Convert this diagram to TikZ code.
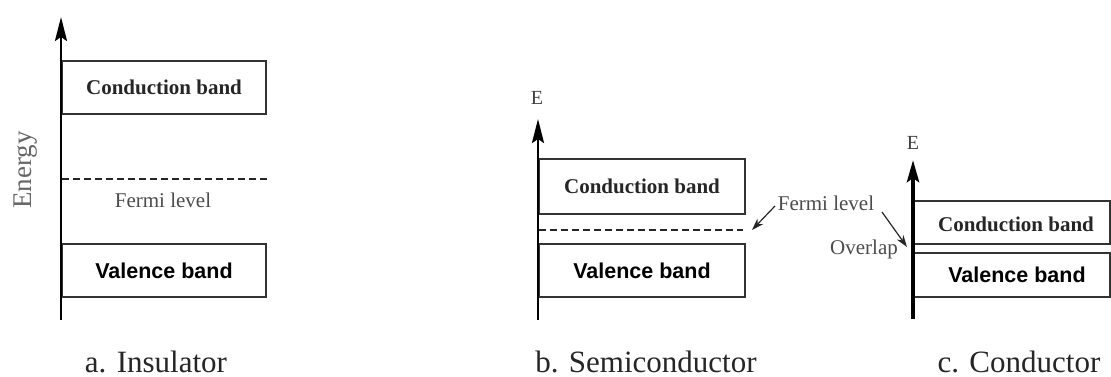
\documentclass[tikz,border=0pt]{standalone}
\usepackage{fontspec}
\setmainfont{Liberation Serif}
\newfontfamily\arialfont{Liberation Sans}
\usetikzlibrary{arrows.meta}
\tikzset{
  band/.style={draw=black!80, line width=1.6pt, inner sep=0pt, outer sep=0pt, anchor=north west},
  condtxt/.style={font=\fontsize{21}{21}\selectfont\bfseries, text=black!85},
  valtxt/.style={font=\arialfont\fontsize{21.5}{21}\selectfont\bfseries, text=black},
  axisline/.style={line width=2.6pt, -{Stealth[length=24pt, width=12pt, inset=4pt]}},
  thickaxis/.style={line width=4.2pt, -{Stealth[length=22pt, width=12pt, inset=4pt]}},
  fermiline/.style={draw=black!85, line width=1.3pt, dash pattern=on 7pt off 4pt},
  lbl/.style={font=\fontsize{21}{21}\selectfont, text=black!70, inner sep=0pt},
  elbl/.style={font=\fontsize{20}{20}\selectfont, text=black!75, inner sep=0pt},
  caption/.style={font=\fontsize{31}{31}\selectfont, text=black!85, inner sep=0pt, anchor=base},
  pointer/.style={line width=1.2pt, draw=black!85, -{Stealth[length=12pt, width=8pt]}}
}
\begin{document}
\begin{tikzpicture}[x=1pt,y=-1pt]
\useasboundingbox[fill=white] (0,0) rectangle (1111,377);

% ---------- a. Insulator ----------
\node[band, minimum width=204pt, minimum height=53pt] (ic) at (62,61) {};
\node[condtxt] (ict) at (ic.center) {Conduction band};
\node[band, minimum width=204pt, minimum height=53pt] (iv) at (62,244) {};
\node[valtxt] (ivt) at (iv.center) {Valence band};
\coordinate (ifl) at (62,179);
\coordinate (ifr) at (267,179);
\draw[fermiline] (ifl) -- (ifr);
\node[lbl] (ifermi) at (163,200) {Fermi level};
\coordinate (ia0) at (61,320);
\coordinate (ia1) at (61,17);
\draw[axisline] (ia0) -- (ia1);
\node[lbl, rotate=90, font=\fontsize{27}{27}\selectfont, text=black!60] (energy) at (26,170) {Energy};
\node[caption] (capa) at (156,372) {a. Insulator};

% ---------- b. Semiconductor ----------
\node[band, minimum width=206pt, minimum height=55pt] (sc) at (539,159) {};
\node[condtxt] (sct) at (sc.center) {Conduction band};
\node[band, minimum width=206pt, minimum height=53pt] (sv) at (539,244) {};
\node[valtxt] (svt) at (sv.center) {Valence band};
\coordinate (sfl) at (539,230);
\coordinate (sfr) at (743,230);
\draw[fermiline] (sfl) -- (sfr);
\coordinate (sa0) at (538,320);
\coordinate (sa1) at (538,119);
\draw[axisline] (sa0) -- (sa1);
\node[elbl] (se) at (537,98) {E};
\node[caption] (capb) at (646,372) {b. Semiconductor};

% ---------- c. Conductor ----------
\node[band, minimum width=197pt, minimum height=43pt] (cc) at (913,201) {};
\node[condtxt] (cct) at (1016,224) {Conduction band};
\node[band, minimum width=197pt, minimum height=44pt] (cv) at (913,253) {};
\node[valtxt] (cvt) at (1017,275) {Valence band};
\coordinate (ca0) at (913,319);
\coordinate (ca1) at (913,160);
\draw[thickaxis] (ca0) -- (ca1);
\node[elbl] (ce) at (913,143) {E};
\node[caption] (capc) at (1019,372) {c. Conductor};

% ---------- shared labels ----------
\node[lbl] (fermi2) at (826,203) {Fermi level};
\node[lbl] (overlap) at (864,249) {Overlap};
\coordinate (p1s) at (775,206);
\coordinate (p1e) at (752,230);
\draw[pointer] (p1s) -- (p1e);
\coordinate (p2s) at (882,212);
\coordinate (p2e) at (907,247);
\draw[pointer] (p2s) -- (p2e);
\end{tikzpicture}
\end{document}
